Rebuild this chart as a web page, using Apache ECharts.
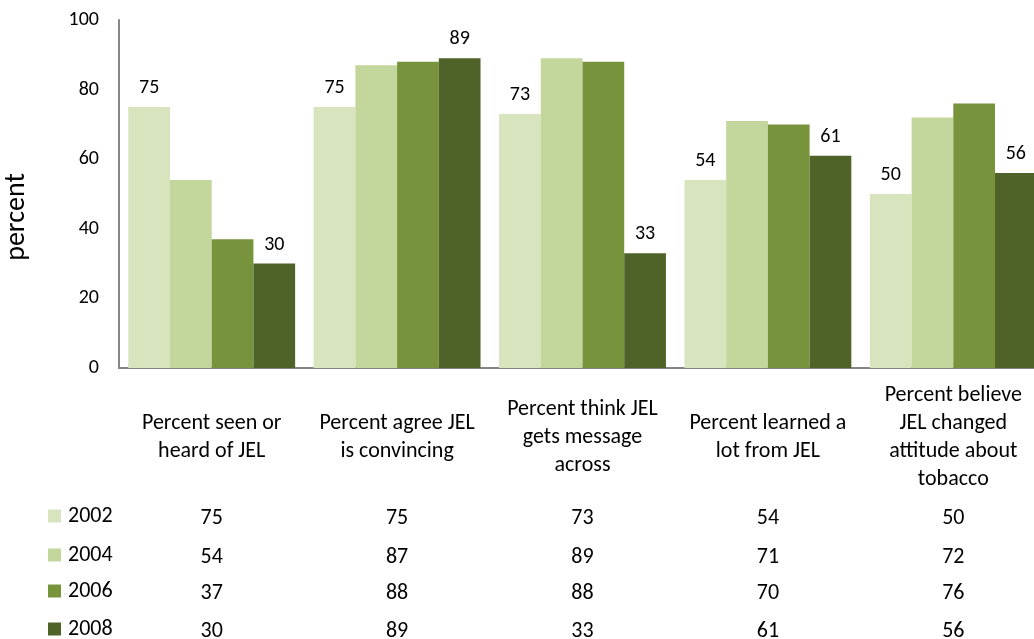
<!DOCTYPE html>
<html>
<head>
<meta charset="utf-8">
<script src="https://cdn.jsdelivr.net/npm/echarts@6/dist/echarts.min.js"></script>
<style>
html,body{margin:0;padding:0;background:#fff;}
#c{width:1034px;height:639px;}
</style>
</head>
<body>
<div id="c"></div>
<script>
const categories = [
  'Percent seen or\nheard of JEL',
  'Percent agree JEL\nis convincing',
  'Percent think JEL\ngets message\nacross',
  'Percent learned a\nlot from JEL',
  'Percent believe\nJEL changed\nattitude about\ntobacco'
];
const years = ['2002', '2004', '2006', '2008'];
const v2002 = [75, 75, 73, 54, 50];
const v2004 = [54, 87, 89, 71, 72];
const v2006 = [37, 88, 88, 70, 76];
const v2008 = [30, 89, 33, 61, 56];
const yTicks = [0, 20, 40, 60, 80, 100];
const colors = ['#D7E4BD', '#C3D69B', '#77933C', '#4F6228'];
const seriesValues = [v2002, v2004, v2006, v2008];
const showLabels = [true, false, false, true];

const FONT = "Carlito, 'Open Sans', sans-serif";
const chart = echarts.init(document.getElementById('c'));

const tableOffsets = [150, 189, 225, 263];
const xAxes = [{
  type: 'category',
  data: categories,
  axisLine: {show: true, lineStyle: {color: '#868686', width: 2}},
  axisTick: {show: false},
  axisLabel: {
    interval: 0, color: '#000', fontSize: 22, fontFamily: FONT,
    lineHeight: 28, verticalAlign: 'middle', margin: 69
  }
}];
seriesValues.forEach((vals, k) => {
  xAxes.push({
    type: 'category',
    data: categories,
    position: 'bottom',
    offset: tableOffsets[k],
    axisLine: {show: false},
    axisTick: {show: false},
    axisLabel: {
      interval: 0, color: '#000', fontSize: 22, fontFamily: FONT,
      verticalAlign: 'middle', margin: 0,
      formatter: (v, i) => String(vals[i])
    }
  });
});

const legends = years.map((y, k) => ({
  show: true,
  orient: 'vertical',
  left: 48,
  top: 368 + tableOffsets[k] - 13,
  icon: 'rect',
  itemWidth: 13,
  itemHeight: 13,
  itemGap: 0,
  padding: 0,
  textStyle: {color: '#000', fontSize: 22, fontFamily: FONT, padding: [0, 0, 0, 2]},
  data: [y]
}));

chart.setOption({
  animation: false,
  color: colors,
  grid: {left: 119, top: 20, height: 348, width: 927, containLabel: false, outerBoundsMode: 'none'},
  legend: legends,
  xAxis: xAxes,
  yAxis: {
    type: 'value',
    min: 0, max: 100, interval: 20,
    name: 'percent',
    nameLocation: 'middle',
    nameRotate: 90,
    nameGap: 88,
    nameTextStyle: {color: '#000', fontSize: 28, fontFamily: FONT, padding: [0, 46, 0, 0]},
    axisLine: {show: true, lineStyle: {color: '#868686', width: 2}},
    axisTick: {show: false},
    splitLine: {show: false},
    axisLabel: {color: '#000', fontSize: 20, fontFamily: FONT, margin: 20,
      formatter: v => yTicks.includes(v) ? String(v) : ''}
  },
  series: seriesValues.map((vals, k) => ({
    name: years[k],
    type: 'bar',
    xAxisIndex: 0,
    data: vals,
    barGap: '0%',
    barCategoryGap: '10%',
    itemStyle: {color: colors[k]},
    label: {
      show: showLabels[k], position: 'top', distance: 9,
      color: '#000', fontSize: 20, fontFamily: FONT
    }
  }))
});
</script>
</body>
</html>
